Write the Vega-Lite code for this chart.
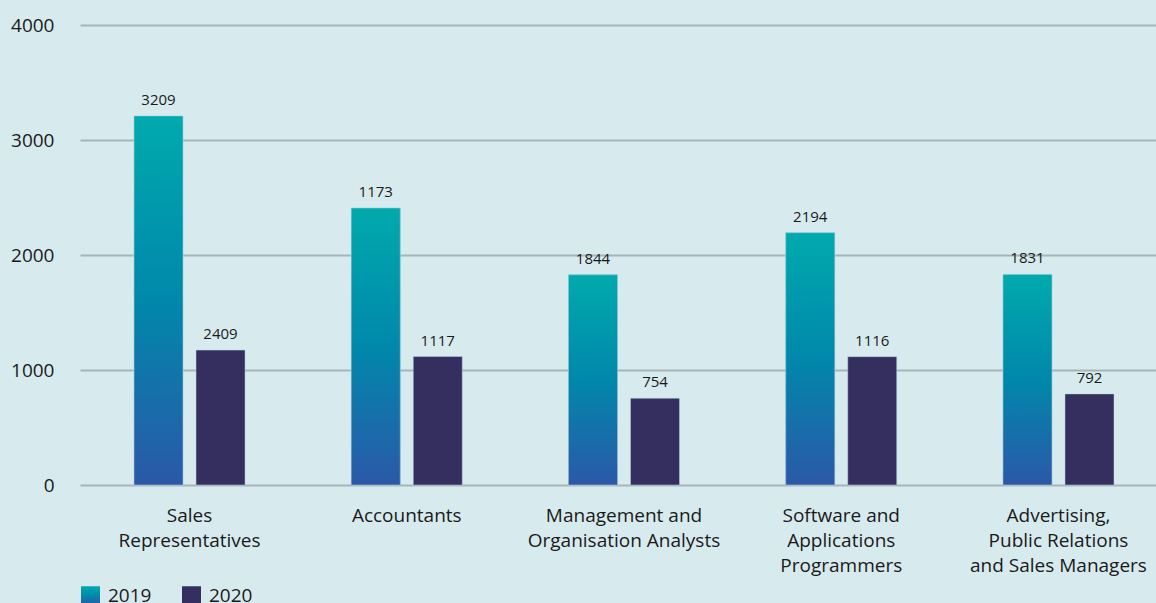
{
  "$schema": "https://vega.github.io/schema/vega-lite/v6.json",
  "width": 1076,
  "height": 460,
  "autosize": {"type": "none"},
  "padding": {"left": 80, "top": 25, "right": 0, "bottom": 118},
  "background": "#d7ebee",
  "config": {
    "view": {"stroke": null},
    "font": "Open Sans",
    "axis": {"labelFont": "Open Sans", "labelColor": "#1a1a1a"}
  },
  "data": {
    "values": [
      {"occupation": "Sales|Representatives", "year": "2019", "value": 3209, "label": "3209"},
      {"occupation": "Sales|Representatives", "year": "2020", "value": 1173, "label": "2409"},
      {"occupation": "Accountants", "year": "2019", "value": 2409, "label": "1173"},
      {"occupation": "Accountants", "year": "2020", "value": 1117, "label": "1117"},
      {"occupation": "Management and|Organisation Analysts", "year": "2019", "value": 1828, "label": "1844"},
      {"occupation": "Management and|Organisation Analysts", "year": "2020", "value": 754, "label": "754"},
      {"occupation": "Software and|Applications|Programmers", "year": "2019", "value": 2194, "label": "2194"},
      {"occupation": "Software and|Applications|Programmers", "year": "2020", "value": 1116, "label": "1116"},
      {"occupation": "Advertising,|Public Relations|and Sales Managers", "year": "2019", "value": 1831, "label": "1831"},
      {"occupation": "Advertising,|Public Relations|and Sales Managers", "year": "2020", "value": 792, "label": "792"}
    ]
  },
  "encoding": {
    "x": {
      "field": "occupation", "type": "nominal", "sort": null,
      "scale": {"paddingInner": 0.489, "paddingOuter": 0.221, "align": 0.5625},
      "axis": {"title": null, "labelAngle": 0, "ticks": false, "domain": false, "labelFontSize": 19, "labelPadding": 21, "labelLineHeight": 25, "labelLimit": 0, "labelExpr": "split(datum.value, '|')", "labelBaseline": "top"}
    },
    "xOffset": {"field": "year", "type": "nominal", "scale": {"paddingInner": 0.21, "paddingOuter": 0}},
    "y": {
      "field": "value", "type": "quantitative",
      "scale": {"domain": [0, 4000]},
      "axis": {"title": null, "values": [0, 1000, 2000, 3000, 4000], "format": "d", "ticks": false, "domain": false, "grid": true, "gridColor": "#a6b5b9", "gridWidth": 2, "labelFontSize": 19, "labelPadding": 26}
    }
  },
  "layer": [
    {
      "mark": {"type": "bar", "stroke": "#b8d3dc", "strokeWidth": 0.5},
      "encoding": {
        "color": {
          "field": "year", "type": "nominal",
          "scale": {"domain": ["2019", "2020"], "range": [
            {"expr": "{gradient: 'linear', x1: 0, y1: 0, x2: 0, y2: 1, stops: [{offset: 0, color: '#00aaad'}, {offset: 0.5, color: '#0088ab'}, {offset: 1, color: '#2b58a8'}]}"},
            "#352f5f"
          ]},
          "legend": {
            "title": null, "orient": "none", "direction": "horizontal", "legendX": 1, "legendY": 561,
            "symbolType": "square", "symbolSize": 361, "symbolStrokeWidth": 0, "symbolOpacity": 1,
            "labelFontSize": 19, "labelColor": "#1a1a1a", "columnPadding": 30, "labelOffset": 8
          }
        }
      }
    },
    {
      "transform": [{"filter": "datum.year === '2019'"}],
      "mark": {
        "type": "bar",
        "stroke": "#b8d3dc", "strokeWidth": 0.5,
        "color": {"gradient": "linear", "x1": 0, "y1": 0, "x2": 0, "y2": 1, "stops": [
          {"offset": 0, "color": "#00aaad"},
          {"offset": 0.5, "color": "#0088ab"},
          {"offset": 1, "color": "#2b58a8"}
        ]}
      },
      "encoding": {
        "xOffset": {"field": "year", "type": "nominal", "scale": {"domain": ["2019", "2020"], "paddingInner": 0.21, "paddingOuter": 0}}
      }
    },
    {
      "mark": {"type": "text", "baseline": "bottom", "dy": -8, "fontSize": 15, "color": "#1a1a1a"},
      "encoding": {"text": {"field": "label"}}
    }
  ]
}
